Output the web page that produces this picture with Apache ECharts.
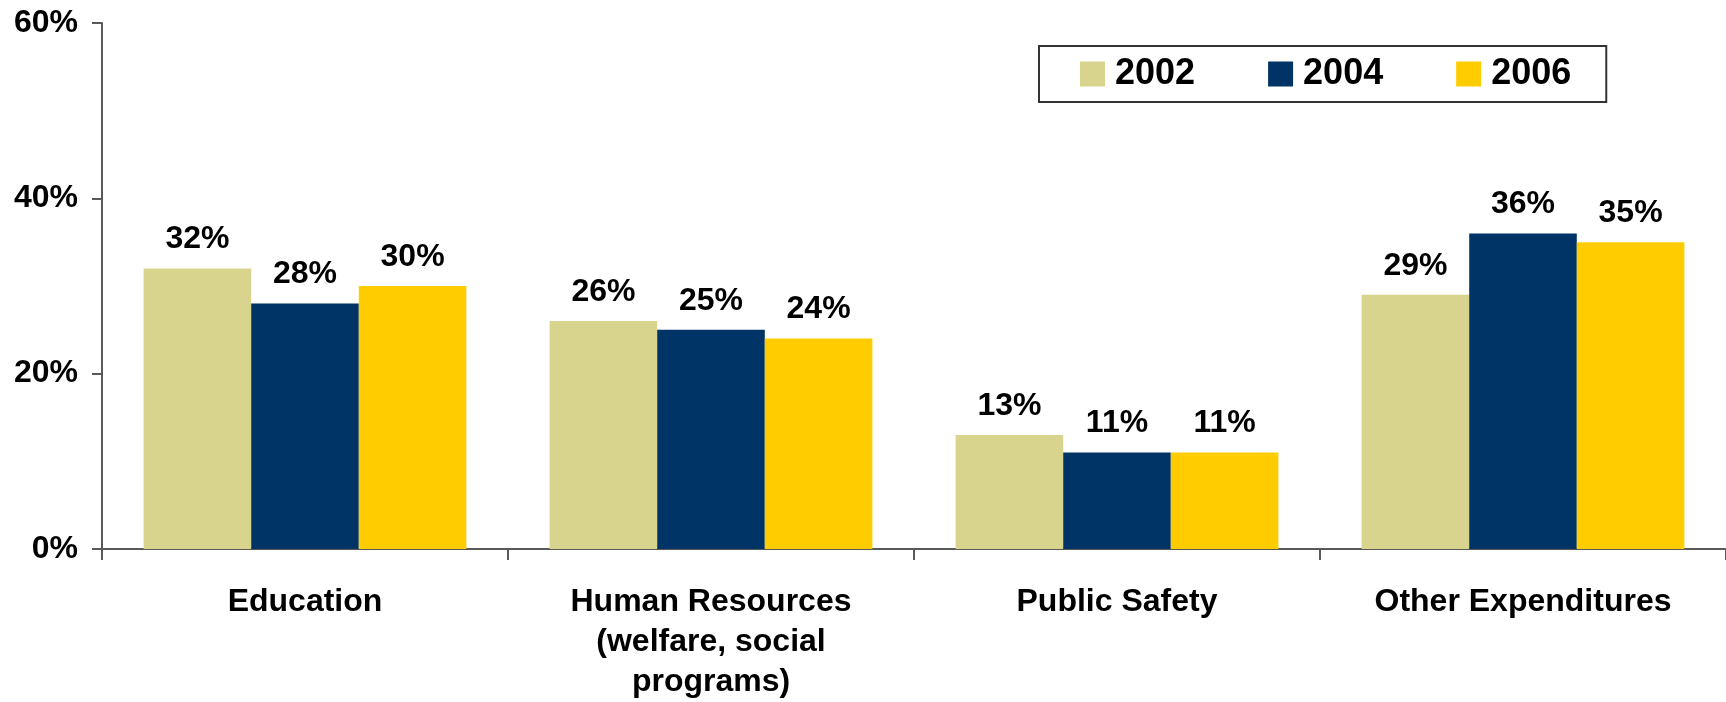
<!DOCTYPE html>
<html>
<head>
<meta charset="utf-8">
<script src="https://cdn.jsdelivr.net/npm/echarts@6/dist/echarts.min.js"></script>
<style>
html,body{margin:0;padding:0;background:#fff;}
#chart{width:1726px;height:702px;}
</style>
</head>
<body>
<div id="chart"></div>
<script>
const categories = ["Education", "Human Resources\n(welfare, social\nprograms)", "Public Safety", "Other Expenditures"];
const seriesNames = ["2002", "2004", "2006"];
const values2002 = [32, 26, 13, 29];
const values2004 = [28, 25, 11, 36];
const values2006 = [30, 24, 11, 35];
const yTicks = [0, 20, 40, 60];

const colors = ["#D8D48E", "#003366", "#FFCC00"];
const FONT = "'Liberation Sans', Arial, sans-serif";
const allValues = [values2002, values2004, values2006];

const chart = echarts.init(document.getElementById('chart'), null, {renderer: 'canvas'});
chart.setOption({
  animation: false,
  backgroundColor: '#fff',
  textStyle: {fontFamily: FONT},
  grid: {left: 102, right: -4, top: 23, bottom: 153, containLabel: false},
  legend: {
    data: seriesNames,
    left: 1039,
    top: 46,
    orient: 'horizontal',
    icon: 'rect',
    itemWidth: 25,
    itemHeight: 25,
    itemGap: 73,
    padding: [10, 35, 10, 41],
    borderColor: '#333',
    borderWidth: 2,
    backgroundColor: '#fff',
    textStyle: {fontFamily: FONT, fontWeight: 'bold', fontSize: 36, color: '#000', lineHeight: 36, padding: [0, 0, 0, 5]}
  },
  xAxis: {
    type: 'category',
    data: categories,
    axisLine: {show: true, lineStyle: {color: '#595959', width: 2}},
    axisTick: {show: true, length: 11, lineStyle: {color: '#595959', width: 2}},
    axisLabel: {
      margin: 33,
      fontFamily: FONT, fontWeight: 'bold', fontSize: 32, color: '#000',
      lineHeight: 40, align: 'center', interval: 0
    },
    splitLine: {show: false}
  },
  yAxis: {
    type: 'value',
    min: yTicks[0],
    max: yTicks[yTicks.length - 1],
    interval: 20,
    axisLine: {show: true, lineStyle: {color: '#595959', width: 2}},
    axisTick: {show: true, length: 10, lineStyle: {color: '#595959', width: 2}},
    axisLabel: {
      margin: 24,
      formatter: '{value}%',
      fontFamily: FONT, fontWeight: 'bold', fontSize: 32, color: '#000'
    },
    splitLine: {show: false}
  },
  series: seriesNames.map((name, i) => ({
    name: name,
    type: 'bar',
    data: allValues[i],
    barGap: '0%',
    barCategoryGap: '20.5%',
    itemStyle: {color: colors[i]},
    label: {
      show: true,
      position: 'top',
      distance: 13,
      formatter: '{c}%',
      fontFamily: FONT, fontWeight: 'bold', fontSize: 32, color: '#000'
    }
  }))
});
</script>
</body>
</html>
